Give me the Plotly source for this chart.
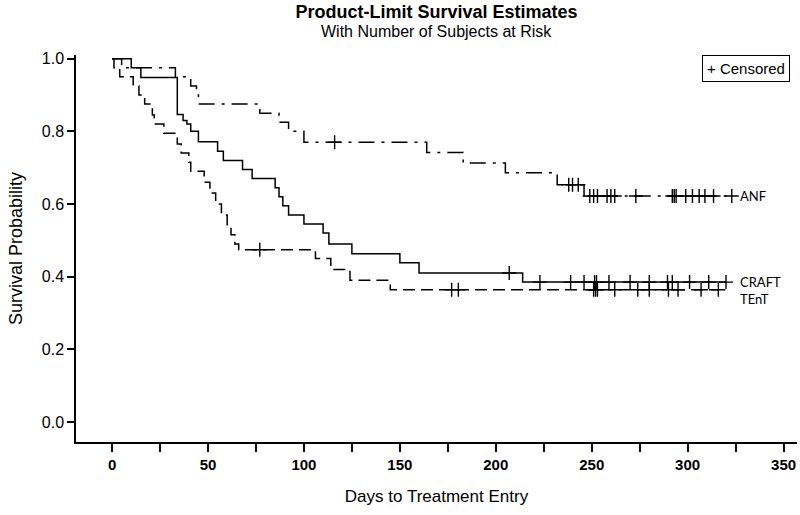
import numpy as np
import plotly.graph_objects as go

# ---- data ----
anf_t = [0, 5, 33, 41, 44, 45, 77, 87, 92, 100, 164, 183, 205, 232, 246]
anf_s = [1.0, 0.975, 0.95, 0.925, 0.9, 0.875, 0.85, 0.825, 0.8, 0.77, 0.742, 0.713, 0.686, 0.653, 0.622]
anf_cens = [116, 238, 240, 243, 249, 251, 253, 258, 260, 262, 273, 292, 293, 294, 299, 302.5, 306, 309, 313.5, 323]

craft_t = [0, 10, 15, 34, 37, 39, 41, 45, 55, 58, 68, 73, 85, 87, 89, 92, 100, 110, 113, 125, 150, 160, 214]
craft_s = [1.0, 0.975, 0.948, 0.846, 0.83, 0.82, 0.8, 0.771, 0.745, 0.72, 0.695, 0.67, 0.645, 0.62, 0.595, 0.57, 0.545, 0.52, 0.49, 0.463, 0.438, 0.41, 0.385]
craft_cens = [207, 223, 239, 246, 251.5, 252.5, 259, 270, 280, 289.5, 292, 301, 311, 320]

tent_t = [0, 1, 4, 11, 14, 17, 21, 22, 27, 34, 36, 40, 41, 48, 51, 54, 57, 60, 62, 64, 66, 106, 114, 124, 145]
tent_s = [1.0, 0.975, 0.95, 0.925, 0.9, 0.875, 0.845, 0.82, 0.795, 0.765, 0.74, 0.715, 0.69, 0.66, 0.63, 0.6, 0.57, 0.54, 0.515, 0.49, 0.474, 0.45, 0.42, 0.39, 0.364]
tent_cens = [77, 177, 180.5, 251, 252, 253, 262, 274, 280, 290, 295, 307, 316]

groups = ["ANF", "CRAFT", "TEnT"]
x_ticks = list(range(0, 351, 25))
y_ticks = [0.0, 0.2, 0.4, 0.6, 0.8, 1.0]

FONT = "Liberation Sans, Arial, sans-serif"

W, H = 800, 515
ML, MR, MT, MB = 76, 3, 55, 73
PH = H - MT - MB

fig = go.Figure()

series = [
    (anf_t, anf_s, anf_cens, "16px,7px,3px,7px"),
    (craft_t, craft_s, craft_cens, "solid"),
    (tent_t, tent_s, tent_cens, "12px,6px"),
]

for name, (t, s, c, dash) in zip(groups, series):
    t = np.array(t, float)
    s = np.array(s, float)
    c = np.array(c, float)
    end = max(t.max(), c.max())
    lx = np.append(t, end)
    ly = np.append(s, s[-1])
    fig.add_trace(go.Scatter(x=lx, y=ly, mode="lines", line_shape="hv",
                             line=dict(color="black", width=1.5, dash=dash),
                             showlegend=False, hoverinfo="skip", name=name))
    idx = np.searchsorted(t, c, side="right") - 1
    cy = s[idx]
    fig.add_trace(go.Scatter(x=c, y=cy, mode="markers",
                             marker=dict(symbol="cross-thin", size=10,
                                         line=dict(color="black", width=1.4)),
                             showlegend=False, name=name + " censored"))
    fig.add_annotation(x=326, y=s[-1] if name != "TEnT" else s[-1] - 0.025,
                       xref="x", yref="y", text=name, showarrow=False,
                       xanchor="left", yanchor="middle",
                       font=dict(family="Lato, Open Sans, sans-serif", size=13, color="black"))

fig.add_annotation(x=1 - 7 / (W - ML - MR), y=1 + (MT - 68) / PH, xref="paper", yref="paper",
                   text="+ Censored", showarrow=False, xanchor="right", yanchor="middle",
                   bordercolor="black", borderwidth=1, borderpad=4,
                   font=dict(family=FONT, size=15, color="black"))

fig.add_annotation(x=0.5, y=1 + (MT - 32) / PH, xref="paper", yref="paper",
                   text="With Number of Subjects at Risk", showarrow=False,
                   xanchor="center", yanchor="middle",
                   font=dict(family=FONT, size=16, color="black"))

fig.update_layout(
    width=W, height=H,
    margin=dict(l=ML, r=MR, t=MT, b=MB, autoexpand=False),
    paper_bgcolor="white", plot_bgcolor="white",
    title=dict(text="<b>Product-Limit Survival Estimates</b>", x=0.5, xref="paper",
               y=1 - 12 / H, yref="container", yanchor="middle", xanchor="center",
               font=dict(family=FONT, size=18, color="black")),
    xaxis=dict(range=[-18.8, 357], tickvals=x_ticks,
               ticktext=[str(v) if v % 50 == 0 else "" for v in x_ticks],
               showline=True, linecolor="black", linewidth=1.5,
               ticks="outside", ticklen=8, tickwidth=1.5, tickcolor="black",
               showgrid=False, zeroline=False, automargin=False,
               tickfont=dict(family=FONT, size=15, color="black", weight="bold"),
               title=dict(text="Days to Treatment Entry", standoff=18,
                          font=dict(family=FONT, size=17, color="black"))),
    yaxis=dict(range=[-0.055, 1.01], tickvals=y_ticks, tickformat=".1f",
               showline=True, linecolor="black", linewidth=1.5,
               ticks="outside", ticklen=7, tickwidth=1.5, tickcolor="black",
               showgrid=False, zeroline=False, automargin=False,
               tickfont=dict(family=FONT, size=16, color="black"),
               title=dict(text="Survival Probability", standoff=14,
                          font=dict(family=FONT, size=18, color="black"))),
)

fig.write_html("out.html", config={"displayModeBar": False},
               post_script="document.body.style.margin='0px';document.body.style.overflow='hidden';")
